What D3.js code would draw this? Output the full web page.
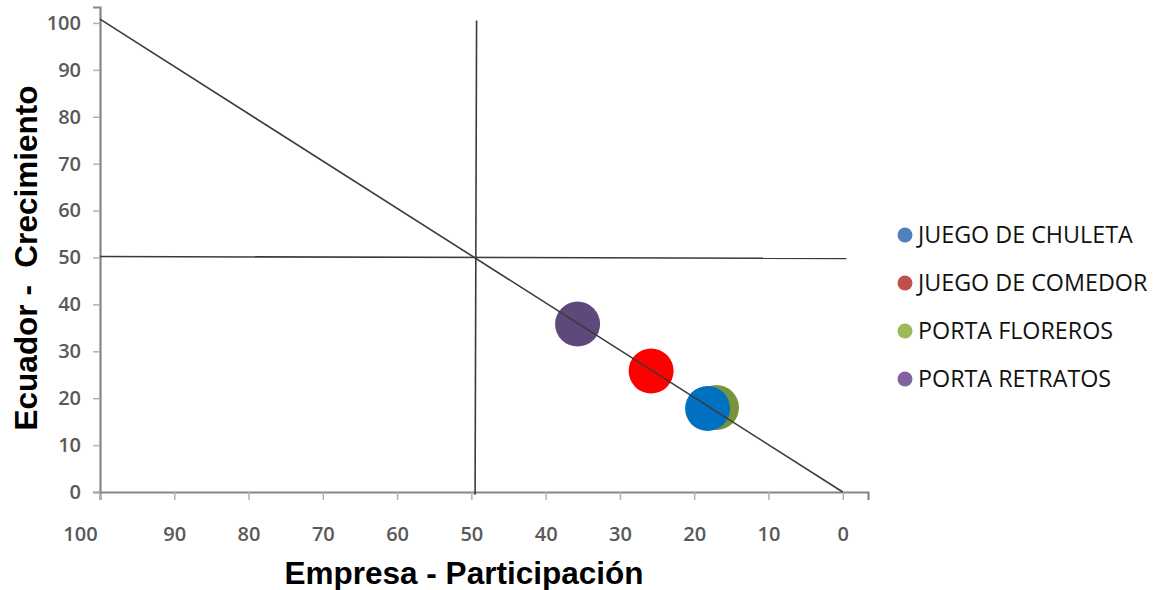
<!DOCTYPE html>
<html><head><meta charset="utf-8">
<script src="https://cdn.jsdelivr.net/npm/d3@7"></script>
<style>body{margin:0;background:#fff}</style>
</head><body><svg id="c" width="1157" height="590"></svg>
<script>
const series = ["JUEGO DE CHULETA","JUEGO DE COMEDOR","PORTA FLOREROS","PORTA RETRATOS"];
const xValues = [18.2, 25.8, 17.0, 35.7];   // Empresa - Participación
const yValues = [17.8, 25.8, 18.0, 35.8];   // Ecuador - Crecimiento
const bubbleColors = ["#0070C0","#FF0000","#77933C","#5F497A"];
const legendColors = ["#4F81BD","#C0504D","#9BBB59","#8064A2"];
const drawOrder = [3,1,2,0];
const xTicks = [100,90,80,70,60,50,40,30,20,10,0];
const yTicks = [0,10,20,30,40,50,60,70,80,90,100];
const diagLine = [[100,100.8],[0,0]];
const vLine = [[49.3,100.5],[49.5,-0.6]];
const hLine = [[100,50.2],[-0.5,49.8]];

const svg = d3.select("#c");
const x = d3.scaleLinear().domain([100,-3.4]).range([100,868]);
const y = d3.scaleLinear().domain([0,103.4]).range([492,7]);
const grey = "#868686";

// axes
const gx = svg.append("g").attr("transform","translate(0,492)")
  .call(d3.axisBottom(x).tickValues(xTicks).tickSizeOuter(0).tickSize(8).tickPadding(34));
const gy = svg.append("g").attr("transform","translate(100,0)")
  .call(d3.axisLeft(y).tickValues(yTicks).tickSizeOuter(0).tickSize(7).tickPadding(12));
[gx,gy].forEach(g=>{
  g.attr("font-size",null);
  g.select(".domain").attr("stroke",grey).attr("stroke-width",2.2);
  g.selectAll(".tick line").attr("stroke","#b0b0b0").attr("stroke-width",1.5);
  g.selectAll(".tick text").attr("fill","#595959").style("font-family","Open Sans, sans-serif")
   .style("font-size","20px").style("font-weight","600");
});
gx.selectAll(".tick text").attr("dy","0.35em");
gx.selectAll(".tick text").filter(d=>d===100).attr("dx",-20);

// reference lines
const line = d3.line().x(d=>x(d[0])).y(d=>y(d[1]));
[vLine,hLine].forEach(pts=>{
  svg.append("path").attr("d",line(pts)).attr("fill","none")
    .attr("stroke","#3a3a3a").attr("stroke-width",1.6);
});

// bubbles
drawOrder.forEach(i=>{
  svg.append("circle").attr("cx",x(xValues[i])).attr("cy",y(yValues[i]))
    .attr("r",22.5).attr("fill",bubbleColors[i]);
});
svg.append("path").attr("d",line(diagLine)).attr("fill","none")
  .attr("stroke","#3a3a3a").attr("stroke-width",1.6);

// legend
const lg = svg.append("g");
series.forEach((s,i)=>{
  const yy = 235 + i*48;
  lg.append("circle").attr("cx",905).attr("cy",yy).attr("r",7.5).attr("fill",legendColors[i]);
  lg.append("text").attr("x",918).attr("y",yy).attr("dy","0.36em")
    .attr("font-family","Open Sans, sans-serif").attr("font-size",23.3).attr("fill","#111")
    .text(s);
});

// axis titles
svg.append("text").attr("x",464).attr("y",584).attr("text-anchor","middle")
  .attr("font-family","Liberation Sans, Arial, sans-serif").attr("font-weight","bold")
  .attr("font-size",31.5).attr("fill","#000").text("Empresa - Participación");
svg.append("text").attr("transform","translate(37,258) rotate(-90)").attr("text-anchor","middle")
  .attr("font-family","Liberation Sans, Arial, sans-serif").attr("font-weight","bold")
  .attr("font-size",31.5).attr("fill","#000").attr("xml:space","preserve").style("white-space","pre")
  .text("Ecuador -  Crecimiento");
</script></body></html>
